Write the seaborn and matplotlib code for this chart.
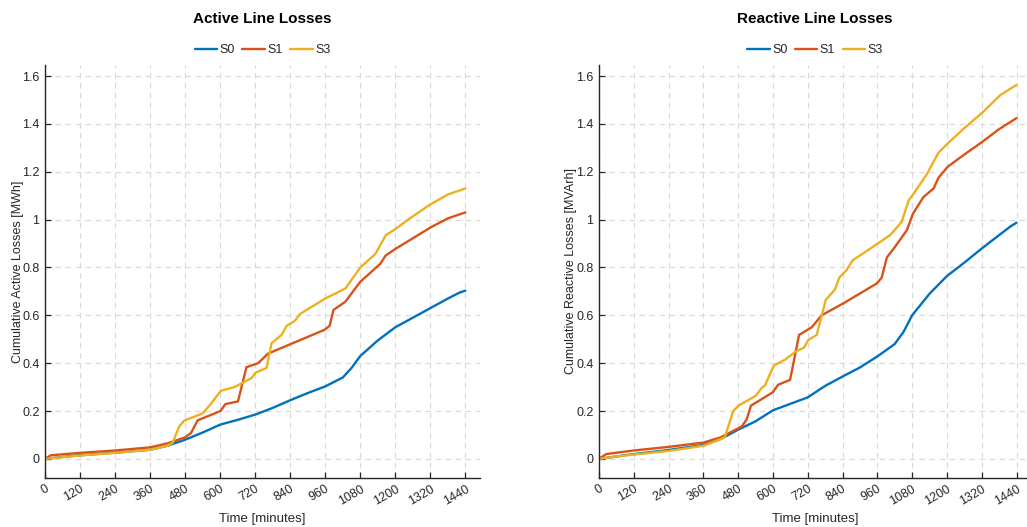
import numpy as np
import pandas as pd
import matplotlib
matplotlib.use("Agg")
import matplotlib.pyplot as plt
import seaborn as sns
from matplotlib.ticker import FuncFormatter

# ---- Cumulative active line losses [MWh] ----
act_t_s0 = [0, 60, 120, 240, 360, 420, 480, 540, 600, 660, 720, 780, 840, 900, 960,
            1020, 1050, 1080, 1140, 1200, 1260, 1320, 1380, 1420, 1440]
act_s0 = [0, 0.008, 0.015, 0.026, 0.038, 0.055, 0.08, 0.11, 0.143, 0.163, 0.185, 0.213,
          0.245, 0.275, 0.303, 0.34, 0.38, 0.43, 0.495, 0.55, 0.59, 0.63, 0.67, 0.695, 0.703]

act_t_s1 = [0, 20, 120, 240, 360, 420, 480, 500, 523, 601, 618, 661, 690, 730, 764, 957,
            975, 988, 1029, 1080, 1149, 1167, 1201, 1322, 1380, 1440]
act_s1 = [0, 0.015, 0.025, 0.035, 0.048, 0.065, 0.09, 0.108, 0.161, 0.2, 0.229, 0.24, 0.383,
          0.4, 0.44, 0.539, 0.556, 0.622, 0.657, 0.74, 0.816, 0.85, 0.878, 0.968, 1.005, 1.03]

act_t_s3 = [0, 60, 120, 240, 360, 420, 437, 460, 477, 540, 563, 603, 649, 707, 721, 759,
            776, 810, 828, 856, 874, 960, 1029, 1080, 1132, 1167, 1201, 1247, 1322, 1380, 1440]
act_s3 = [0, 0.007, 0.014, 0.025, 0.038, 0.055, 0.067, 0.136, 0.16, 0.19, 0.222, 0.285, 0.3,
          0.337, 0.36, 0.38, 0.483, 0.518, 0.556, 0.577, 0.606, 0.67, 0.712, 0.8, 0.857,
          0.934, 0.961, 1.003, 1.065, 1.105, 1.13]

# ---- Cumulative reactive line losses [MVArh] ----
rea_t_s0 = [0, 60, 120, 240, 360, 420, 480, 540, 600, 660, 720, 780, 840, 900, 960,
            1020, 1050, 1080, 1140, 1200, 1260, 1320, 1380, 1420, 1440]
rea_s0 = [0, 0.01, 0.02, 0.037, 0.058, 0.083, 0.122, 0.157, 0.203, 0.23, 0.257, 0.305,
          0.344, 0.382, 0.428, 0.48, 0.53, 0.6, 0.69, 0.764, 0.82, 0.879, 0.935, 0.972, 0.987]

rea_t_s1 = [0, 25, 120, 240, 360, 420, 492, 509, 524, 599, 618, 659, 690, 734, 768, 843,
            958, 975, 993, 1021, 1062, 1083, 1119, 1154, 1171, 1202, 1260, 1320, 1380, 1440]
rea_s1 = [0, 0.02, 0.035, 0.05, 0.068, 0.09, 0.135, 0.164, 0.222, 0.278, 0.31, 0.33, 0.518,
          0.55, 0.6, 0.65, 0.733, 0.757, 0.842, 0.886, 0.956, 1.025, 1.094, 1.13, 1.175,
          1.22, 1.272, 1.323, 1.378, 1.424]

rea_t_s3 = [0, 60, 120, 240, 362, 434, 463, 481, 541, 561, 572, 603, 641, 679, 707, 722,
            751, 782, 814, 829, 854, 875, 924, 1004, 1044, 1068, 1085, 1131, 1171, 1200,
            1258, 1322, 1384, 1440]
rea_s3 = [0, 0.01, 0.018, 0.033, 0.055, 0.09, 0.2, 0.222, 0.264, 0.296, 0.306, 0.39, 0.414,
          0.449, 0.465, 0.497, 0.518, 0.664, 0.708, 0.758, 0.789, 0.83, 0.869, 0.935, 0.99,
          1.08, 1.108, 1.19, 1.28, 1.315, 1.38, 1.447, 1.52, 1.563]

scenarios = ["S0", "S1", "S3"]
colors = ["#0072BD", "#D95319", "#EDB120"]
x_ticks = list(range(0, 1441, 120))
y_ticks = [0, 0.2, 0.4, 0.6, 0.8, 1.0, 1.2, 1.4, 1.6]


def long_frame(times, values):
    parts = []
    for name, t, v in zip(scenarios, times, values):
        parts.append(pd.DataFrame({"time": t, "loss": v, "scenario": name}))
    return pd.concat(parts, ignore_index=True)


active = long_frame([act_t_s0, act_t_s1, act_t_s3], [act_s0, act_s1, act_s3])
reactive = long_frame([rea_t_s0, rea_t_s1, rea_t_s3], [rea_s0, rea_s1, rea_s3])

sns.set_theme(style="white")
plt.rcParams["font.family"] = ["Liberation Sans", "DejaVu Sans"]
text_col = "#262626"

fig = plt.figure(figsize=(10.27, 5.27), dpi=100)
W, H = 1027.0, 527.0
ax_l = fig.add_axes([45 / W, 49 / H, 435 / W, 413 / H])
ax_r = fig.add_axes([599 / W, 49 / H, 432 / W, 413 / H])

panels = [
    (ax_l, active, "Active Line Losses", "Cumulative Active Losses [MWh]", -21 / 435),
    (ax_r, reactive, "Reactive Line Losses", "Cumulative Reactive Losses [MVArh]", -22 / 432),
]

for ax, df, title, ylabel, ylab_x in panels:
    sns.lineplot(data=df, x="time", y="loss", hue="scenario", hue_order=scenarios,
                 palette=colors, linewidth=1.7, estimator=None, ax=ax)
    ax.set_xlim(0, 1490)
    ax.set_ylim(-0.08, 1.646)
    ax.set_xticks(x_ticks)
    ax.set_yticks(y_ticks)
    ax.yaxis.set_major_formatter(FuncFormatter(lambda v, p: f"{v:g}"))
    ax.grid(True, color="#d9d9d9", linestyle=(0, (5, 4)), linewidth=0.8)
    ax.set_axisbelow(True)
    for side in ("top", "right"):
        ax.spines[side].set_visible(False)
    for side in ("left", "bottom"):
        ax.spines[side].set_color(text_col)
        ax.spines[side].set_linewidth(1.0)
    ax.tick_params(axis="both", direction="in", length=4, width=0.9, colors=text_col,
                   labelsize=9, bottom=True, left=True)
    ax.tick_params(axis="y", pad=4)
    for lab in ax.get_xticklabels():
        lab.set_rotation(30)
        lab.set_ha("right")
        lab.set_rotation_mode("anchor")
    ax.set_xlabel("Time [minutes]", fontsize=9.5, color=text_col, labelpad=4)
    ax.set_ylabel(ylabel, fontsize=9, color=text_col)
    ax.yaxis.set_label_coords(ylab_x, 0.5)
    ax.set_title(title, fontsize=11, fontweight="bold", color="black", pad=30)
    sns.move_legend(ax, "center", bbox_to_anchor=(0.5, 1.0 + 15 / 413), ncol=3,
                    frameon=False, title=None, fontsize=9, handlelength=1.8,
                    handletextpad=0.2, columnspacing=0.6)

fig.savefig("out.png", dpi=100)
